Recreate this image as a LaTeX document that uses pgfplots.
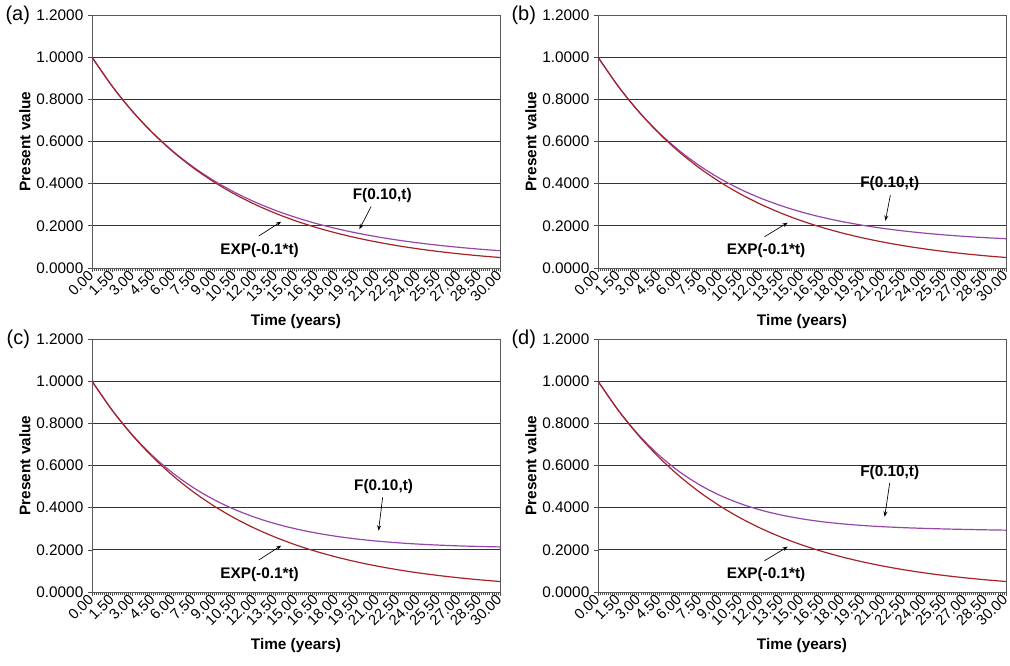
\documentclass[border=0pt]{standalone}
\usepackage{pgfplots}
\pgfplotsset{compat=1.18}
\usepackage{pgfplotstable}
\usepackage{fontspec}
\setmainfont{Liberation Sans}
\usetikzlibrary{arrows.meta}
\definecolor{expred}{RGB}{165,35,40}
\definecolor{fpurple}{RGB}{150,70,170}

\pgfplotstableread{
t    e      a      b      c      d
0    1.0000 1.0000 1.0000 1.0000 1.0000
1.5  0.8607 0.8608 0.8609 0.8610 0.8612
3    0.7408 0.7412 0.7419 0.7429 0.7445
4.5  0.6376 0.6389 0.6409 0.6437 0.6481
6    0.5488 0.5514 0.5555 0.5611 0.5698
7.5  0.4724 0.4767 0.4836 0.4929 0.5071
9    0.4066 0.4130 0.4231 0.4369 0.4574
10.5 0.3499 0.3587 0.3724 0.3911 0.4184
12   0.3012 0.3125 0.3301 0.3538 0.3880
13.5 0.2592 0.2730 0.2946 0.3236 0.3647
15   0.2231 0.2395 0.2649 0.2992 0.3468
16.5 0.1920 0.2108 0.2401 0.2795 0.3332
18   0.1653 0.1864 0.2195 0.2638 0.3230
19.5 0.1423 0.1655 0.2022 0.2512 0.3153
21   0.1225 0.1476 0.1876 0.2412 0.3095
22.5 0.1054 0.1322 0.1755 0.2333 0.3051
24   0.0907 0.1190 0.1653 0.2272 0.3017
25.5 0.0781 0.1077 0.1568 0.2224 0.2990
27   0.0672 0.0979 0.1497 0.2187 0.2968
28.5 0.0578 0.0893 0.1438 0.2159 0.2949
30   0.0498 0.0821 0.1389 0.2138 0.2933
}\data

\pgfplotsset{panel/.style={
  anchor=south west, scale only axis, width=306pt, height=189.75pt,
  xmin=0, xmax=30, ymin=0, ymax=1.2, clip=false,
  axis line style={black!65, line width=0.6pt},
  ytick={0,0.2,0.4,0.6,0.8,1.0,1.2},
  ymajorgrids, grid style={black!80, line width=0.6pt},
  xtick={0,1.5,3,4.5,6,7.5,9,10.5,12,13.5,15,16.5,18,19.5,21,22.5,24,25.5,27,28.5,30},
  minor x tick num=9,
  tick align=outside, tick pos=left,
  major tick length=3pt, minor tick length=2.5pt,
  tick style={black!70, line width=0.5pt},
  /pgf/number format/assume math mode=true,
  yticklabel style={/pgf/number format/fixed, /pgf/number format/fixed zerofill, /pgf/number format/precision=4, font=\fontsize{11.5}{12}\selectfont},
  xticklabel style={/pgf/number format/fixed, /pgf/number format/fixed zerofill, /pgf/number format/precision=2, rotate=45, anchor=east, font=\fontsize{11}{12}\selectfont, inner sep=1pt},
  xlabel={\bfseries Time (years)}, ylabel={\bfseries Present value},
  xlabel style={at={(axis description cs:0.5,-0.2124)}, anchor=center, font=\fontsize{11.5}{12}\selectfont},
  ylabel style={at={(axis description cs:-0.1642,0.5)}, anchor=center, font=\fontsize{11.5}{12}\selectfont},
}}
\tikzset{ann/.style={font=\fontsize{11.5}{12}\selectfont\bfseries}, arr/.style={-{Stealth[length=4pt,width=3pt]}, line width=0.5pt}}

\begin{document}
\begin{tikzpicture}
\useasboundingbox (0,0) rectangle (757.5pt,498.75pt);
% (a)
\begin{axis}[panel, at={(69pt,297.75pt)}]
\addplot[fpurple, line width=0.9pt, smooth] table[x=t,y=a]{\data};
\addplot[expred, line width=0.9pt, smooth] table[x=t,y=e]{\data};
\node[font=\fontsize{15}{16}\selectfont, anchor=east] at (axis description cs:0,1) [xshift=-43pt] {(a)};
\node[ann] at (axis cs:21.34,0.346) {F(0.10,t)};
\draw[arr] (axis cs:20.52,0.291) -- (axis cs:19.66,0.184);
\node[ann] at (axis cs:12.32,0.082) {EXP(-0.1*t)};
\draw[arr] (axis cs:12.27,0.152) -- (axis cs:13.91,0.220);
\end{axis}
% (b)
\begin{axis}[panel, at={(448.5pt,297.75pt)}]
\addplot[fpurple, line width=0.9pt, smooth] table[x=t,y=b]{\data};
\addplot[expred, line width=0.9pt, smooth] table[x=t,y=e]{\data};
\node[font=\fontsize{15}{16}\selectfont, anchor=east] at (axis description cs:0,1) [xshift=-43pt] {(b)};
\node[ann] at (axis cs:21.45,0.402) {F(0.10,t)};
\draw[arr] (axis cs:21.5,0.346) -- (axis cs:21.13,0.224);
\node[ann] at (axis cs:12.36,0.082) {EXP(-0.1*t)};
\draw[arr] (axis cs:12.24,0.148) -- (axis cs:13.95,0.215);
\end{axis}
% (c)
\begin{axis}[panel, at={(69pt,54.75pt)}]
\addplot[fpurple, line width=0.9pt, smooth] table[x=t,y=c]{\data};
\addplot[expred, line width=0.9pt, smooth] table[x=t,y=e]{\data};
\node[font=\fontsize{15}{16}\selectfont, anchor=east] at (axis description cs:0,1) [xshift=-43pt] {(c)};
\node[ann] at (axis cs:21.44,0.499) {F(0.10,t)};
\draw[arr] (axis cs:21.37,0.449) -- (axis cs:21.07,0.291);
\node[ann] at (axis cs:12.32,0.082) {EXP(-0.1*t)};
\draw[arr] (axis cs:12.27,0.152) -- (axis cs:13.91,0.220);
\end{axis}
% (d)
\begin{axis}[panel, at={(448.5pt,54.75pt)}]
\addplot[fpurple, line width=0.9pt, smooth] table[x=t,y=d]{\data};
\addplot[expred, line width=0.9pt, smooth] table[x=t,y=e]{\data};
\node[font=\fontsize{15}{16}\selectfont, anchor=east] at (axis description cs:0,1) [xshift=-43pt] {(d)};
\node[ann] at (axis cs:21.45,0.566) {F(0.10,t)};
\draw[arr] (axis cs:21.45,0.518) -- (axis cs:21.08,0.357);
\node[ann] at (axis cs:12.36,0.082) {EXP(-0.1*t)};
\draw[arr] (axis cs:12.24,0.148) -- (axis cs:13.95,0.215);
\end{axis}
\end{tikzpicture}
\end{document}
